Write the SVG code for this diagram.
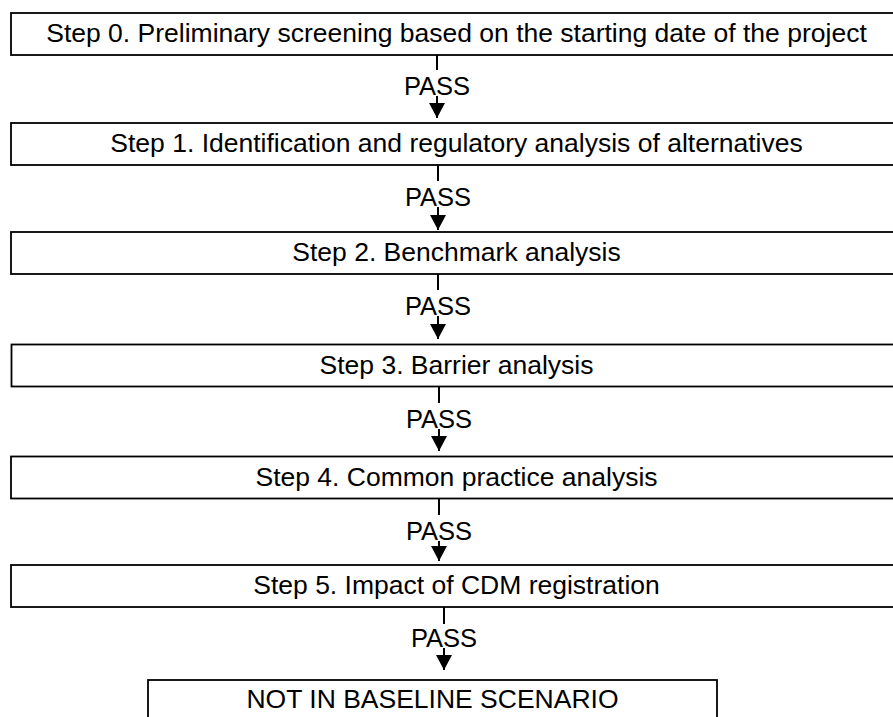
<svg xmlns="http://www.w3.org/2000/svg" width="893" height="717" viewBox="0 0 893 717">
<style>
.box{fill:#fff;stroke:#000;stroke-width:1.8}
.t{font-family:"Liberation Sans",Arial,sans-serif;font-size:26.5px;fill:#000;text-anchor:middle}
.p{font-family:"Liberation Sans",Arial,sans-serif;font-size:25.5px;fill:#000;text-anchor:middle}
.c{stroke:#000;stroke-width:2;fill:none}
</style>
<defs>
<marker id="ah" markerUnits="userSpaceOnUse" markerWidth="16" markerHeight="16" viewBox="0 0 16 16" refX="15" refY="8" orient="auto">
<path d="M0,0 L15,8 L0,16 Z" fill="#000"/>
</marker>
</defs>
<rect width="893" height="717" fill="#fff"/>
<g id="connectors">
<line class="c" x1="437" y1="55" x2="437" y2="70"/>
<text class="p" x="437" y="95">PASS</text>
<line class="c" x1="437" y1="96" x2="437" y2="118" marker-end="url(#ah)"/>
<line class="c" x1="438" y1="165" x2="438" y2="181"/>
<text class="p" x="438" y="206">PASS</text>
<line class="c" x1="438" y1="207" x2="438" y2="230" marker-end="url(#ah)"/>
<line class="c" x1="438" y1="274" x2="438" y2="290"/>
<text class="p" x="438" y="315">PASS</text>
<line class="c" x1="438" y1="316" x2="438" y2="339" marker-end="url(#ah)"/>
<line class="c" x1="439" y1="387" x2="439" y2="403"/>
<text class="p" x="439" y="428">PASS</text>
<line class="c" x1="439" y1="429" x2="439" y2="451" marker-end="url(#ah)"/>
<line class="c" x1="439" y1="499" x2="439" y2="515"/>
<text class="p" x="439" y="540">PASS</text>
<line class="c" x1="439" y1="541" x2="439" y2="561" marker-end="url(#ah)"/>
<line class="c" x1="444" y1="607" x2="444" y2="624"/>
<text class="p" x="444" y="647">PASS</text>
<line class="c" x1="444" y1="648" x2="444" y2="670" marker-end="url(#ah)"/>
</g>
<g id="step0">
<rect class="box" x="11" y="13" width="891" height="42"/>
<text class="t" x="456.5" y="42">Step 0. Preliminary screening based on the starting date of the project</text>
</g>
<g id="step1">
<rect class="box" x="11" y="123" width="891" height="42"/>
<text class="t" x="456.5" y="152">Step 1. Identification and regulatory analysis of alternatives</text>
</g>
<g id="step2">
<rect class="box" x="11" y="232" width="891" height="42"/>
<text class="t" x="456.5" y="261">Step 2. Benchmark analysis</text>
</g>
<g id="step3">
<rect class="box" x="11.5" y="344.5" width="891" height="42"/>
<text class="t" x="456.5" y="374">Step 3. Barrier analysis</text>
</g>
<g id="step4">
<rect class="box" x="11" y="456.5" width="891" height="42"/>
<text class="t" x="456.5" y="486">Step 4. Common practice analysis</text>
</g>
<g id="step5">
<rect class="box" x="11" y="565" width="891" height="42"/>
<text class="t" x="456.5" y="594">Step 5. Impact of CDM registration</text>
</g>
<g id="result">
<rect class="box" x="148" y="680" width="569" height="50"/>
<text class="t" x="432.5" y="708">NOT IN BASELINE SCENARIO</text>
</g>
</svg>
